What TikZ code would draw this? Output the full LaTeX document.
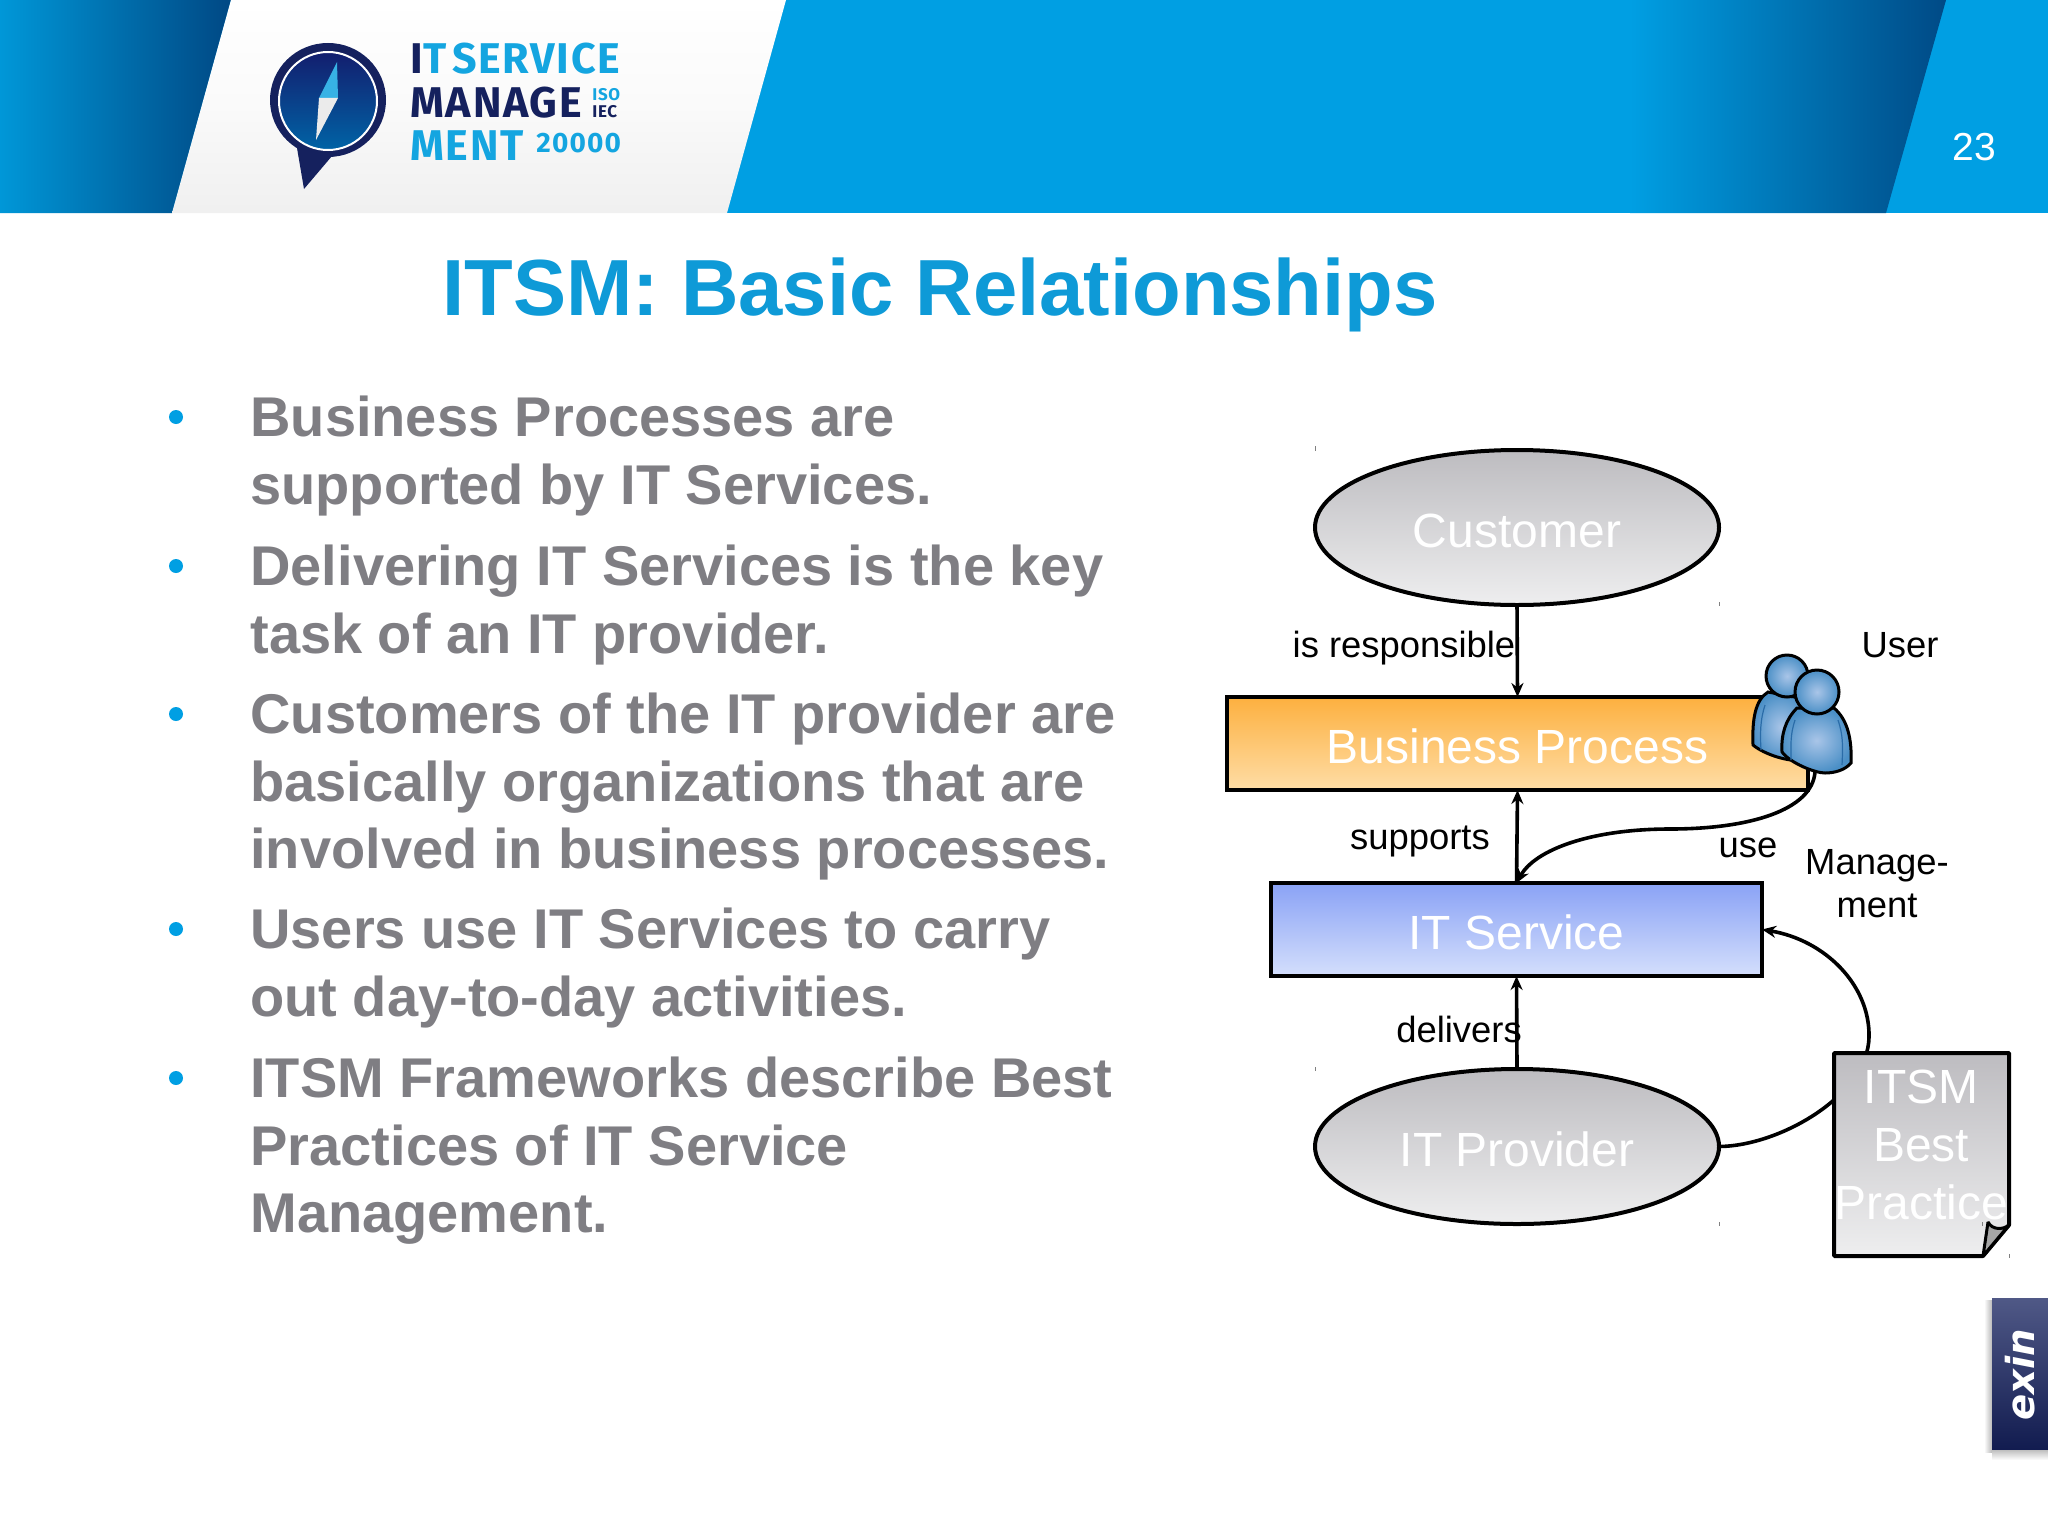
\documentclass[tikz,border=0pt]{standalone}
\usepackage{fontspec}
\setmainfont{Liberation Sans}
\newfontfamily\logofont{Fira Sans}[LetterSpace=4]
\newfontfamily\exinfont{DejaVu Sans}
\usetikzlibrary{shapes.geometric,arrows.meta}
\definecolor{bandblue}{HTML}{009FE3}
\definecolor{banddark}{HTML}{004A86}
\definecolor{titleblue}{HTML}{0E9AD7}
\definecolor{bodygray}{HTML}{7F7E83}
\definecolor{navy}{HTML}{15215E}
\definecolor{logoblue}{HTML}{14A5E0}
\definecolor{ellTop}{HTML}{BDBCC0}
\definecolor{ellBot}{HTML}{EEEEEF}
\definecolor{bpTop}{HTML}{FDB03F}
\definecolor{bpBot}{HTML}{FEDDA6}
\definecolor{itTop}{HTML}{8AA2F5}
\definecolor{itBot}{HTML}{D4DFFC}
\definecolor{pIn}{HTML}{A9C5E8}
\definecolor{pOut}{HTML}{4A8FC6}
\definecolor{pLine}{HTML}{2A6CA8}
\tikzset{
  x=0.5pt,y=-0.5pt,
  bodytext/.style={anchor=north west,align=left,inner sep=0pt,text=bodygray,font=\fontsize{28}{33.65}\selectfont\bfseries},
  bulletdot/.style={circle,fill=bandblue,inner sep=0pt,minimum size=7pt},
  boxstyle/.style={draw=black,line width=2pt,inner sep=0pt,outer sep=0pt,text=white,font=\fontsize{24}{29}\selectfont,text height=19.5pt,text depth=0pt},
  ell/.style={boxstyle,ellipse,minimum width=202pt,minimum height=77.5pt,top color=ellTop,bottom color=ellBot},
  lab/.style={inner sep=0pt,font=\fontsize{18.2}{21.5}\selectfont,align=center,text=black},
  arrowline/.style={draw=black,line width=1.8pt,-{Stealth[length=7pt,width=6pt]}},
  logotext/.style={inner sep=0pt,anchor=base west,font=\logofont\bfseries\fontsize{21.5}{24}\selectfont},
  tick/.style={draw=gray,line width=0.4pt},
  personline/.style={draw=black,line width=1.5pt,inner color=pIn,outer color=pOut},
}
\begin{document}
\begin{tikzpicture}
\useasboundingbox (0,0) rectangle (2048,1536);
\fill[white] (0,0) rectangle (2048,1536);
% header band
\fill[bandblue] (0,0) rectangle (2048,213);
\begin{scope}
 \clip (0,0)--(231,0)--(172,213)--(0,213)--cycle;
 \shade[left color=bandblue!95!black,right color=banddark] (0,0) rectangle (226,213);
 \fill[banddark] (226,0) rectangle (232,213);
\end{scope}
\begin{scope}
 \clip (1630,0)--(1946,0)--(1886,213)--(1630,213)--cycle;
 \shade[left color=bandblue,right color=banddark] (1630,0) rectangle (1946,213);
\end{scope}
\shade[top color=white,bottom color=black!6!white,middle color=white!98!black] (231,0)--(786,0)--(727,213)--(172,213)--cycle;
\node[inner sep=0pt,text=white,font=\fontsize{19.5}{22}\selectfont,anchor=base] (pagenum) at (1974,160) {23};
% logo
\fill[navy] (328,100) ellipse [x radius=58,y radius=57];
\fill[navy] (297,148)--(304,189)--(332,156)--cycle;
\shade[top color=navy!90!blue,bottom color=blue!40!cyan!65!black,draw=white,line width=1pt] (328,101) circle [radius=49];
\fill[logoblue!85!white] (337,62)--(338,98)--(319,98)--cycle;
\fill[white!92!black] (338,98)--(319,98)--(316,140)--cycle;
\node[logotext,text=navy] (lga) at (410,74) {I\textcolor{logoblue}{T\hspace{3pt}SERVICE}};
\node[logotext,text=navy] (lgb) at (410,118) {MANAGE};
\node[logotext,text=logoblue] (lgc) at (410,160) {MENT};
\node[logotext,text=logoblue,font=\logofont\bfseries\fontsize{14}{16}\selectfont] (lgd) at (536,152) {20000};
\node[logotext,text=logoblue,font=\logofont\bfseries\fontsize{8.5}{9}\selectfont] (lge) at (592,101) {ISO};
\node[logotext,text=navy,font=\logofont\bfseries\fontsize{8.5}{9}\selectfont] (lgf) at (592,118) {IEC};
% title
\node[inner sep=0pt,text=titleblue,font=\fontsize{39.8}{44}\selectfont\bfseries,anchor=base] (title) at (940,315) {ITSM: Basic Relationships};
% body
\node[bulletdot] (b1) at (176,417) {};
\node[bulletdot] (b2) at (176,566) {};
\node[bulletdot] (b3) at (176,714) {};
\node[bulletdot] (b4) at (176,929) {};
\node[bulletdot] (b5) at (176,1078) {};
\node[bodytext] (p1) at (250,396) {Business Processes are\\supported by IT Services.};
\node[bodytext] (p2) at (250,545) {Delivering IT Services is the key\\task of an IT provider.};
\node[bodytext] (p3) at (250,693) {Customers of the IT provider are\\basically organizations that are\\involved in business processes.};
\node[bodytext] (p4) at (250,908) {Users use IT Services to carry\\out day-to-day activities.};
\node[bodytext] (p5) at (250,1057) {ITSM Frameworks describe Best\\Practices of IT Service\\Management.};
% diagram
\node[ell] (cust) at (1517,527.5) {Customer};
\node[boxstyle,minimum width=290.5pt,minimum height=46.5pt,top color=bpTop,bottom color=bpBot] (bp) at (1517.5,743.5) {Business Process};
\node[boxstyle,minimum width=245.5pt,minimum height=46.5pt,top color=itTop,bottom color=itBot] (its) at (1516.5,929.5) {IT Service};
\node[ell] (prov) at (1517,1146.5) {IT Provider};
\coordinate (userfoot) at (1815,772);
% connectors
\draw[arrowline] (cust.south) -- (bp.north);
\draw[arrowline] (its.north) -- (bp.south);
\draw[arrowline] (prov.north) -- (its.south);
\draw[arrowline] (userfoot) .. controls (1812,810) and (1750,829) .. (1670,829) .. controls (1590,829) and (1535,850) .. (its.north);
\draw[arrowline] (prov.east) .. controls (1780,1146) and (1868,1095) .. (1869,1037) .. controls (1870,985) and (1825,940) .. (its.east);
% people
\draw[personline] (1768,692) .. controls (1755,700) and (1752,720) .. (1753,745) .. controls (1765,755) and (1790,762) .. (1800,760) -- (1810,700) -- cycle;
\draw[personline] (1787,676) circle [radius=21];
\draw[personline] (1797,708) .. controls (1785,720) and (1781,735) .. (1782,752) .. controls (1790,763) and (1815,773) .. (1825,773) .. controls (1835,773) and (1845,770) .. (1851,763) .. controls (1852,740) and (1848,720) .. (1834,708) -- cycle;
\draw[personline] (1817,692) circle [radius=22];
\draw[pLine,line width=0.6pt] (1795,720) .. controls (1790,735) and (1791,745) .. (1791,760);
\draw[pLine,line width=0.6pt] (1838,720) .. controls (1843,735) and (1843,745) .. (1842,765);
\draw[pLine,line width=0.6pt] (1765,705) .. controls (1760,720) and (1760,735) .. (1761,750);
% document
\draw[line width=2pt,line join=bevel,top color=ellTop,bottom color=ellBot] (1834,1053)--(2009,1053)--(2009,1225)--(1983,1256)--(1834,1256)--cycle;
\draw[line width=1.5pt,line join=bevel,fill=gray!70!white] (1988,1222) .. controls (1992,1230) and (2003,1230) .. (2009,1225) -- (1983,1256) -- cycle;
\node[inner sep=0pt,text=white,font=\fontsize{24}{29}\selectfont,align=center] (doc) at (1921,1145) {ITSM\\Best\\Practice};
% labels
\node[lab,anchor=base] (l1) at (1404,657) {is responsible};
\node[lab,anchor=base] (l2) at (1900,657) {User};
\node[lab,anchor=base] (l3) at (1420,849) {supports};
\node[lab,anchor=base] (l4) at (1748,857) {use};
\node[lab] (l5) at (1877,884) {Manage-\\ment};
\node[lab,anchor=base] (l6) at (1459,1042) {delivers};
% ticks
\draw[tick] (1315,446)--(1315,451) (1719,602)--(1719,606) (1315,1067)--(1315,1071) (1719,1222)--(1719,1226) (1982,1222)--(1982,1226) (2009,1254)--(2009,1258);
% exin
\shade[left color=white,right color=gray!55!white] (1984,1300) rectangle (1992,1452);
\shade[top color=gray!55!white,bottom color=white] (1992,1449) rectangle (2048,1460);
\shade[top color=navy!75!white,bottom color=navy!85!black] (1992,1298) rectangle (2048,1449);
\node[inner sep=0pt,text=white,rotate=90,font=\exinfont\fontsize{19.3}{22}\selectfont\bfseries\itshape] (exin) at (2020,1375) {exin};
\end{tikzpicture}
\end{document}
